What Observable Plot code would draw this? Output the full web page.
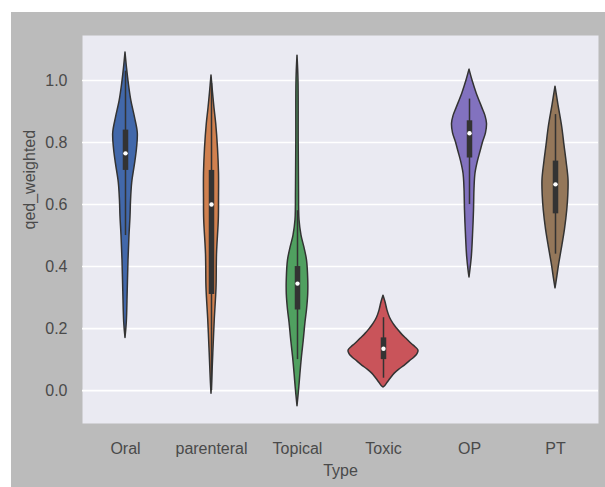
<!DOCTYPE html>
<html>
<head>
<meta charset="utf-8">
<script src="https://cdn.jsdelivr.net/npm/d3@7"></script>
<script src="https://cdn.jsdelivr.net/npm/@observablehq/plot@0.6"></script>
<style>
  html, body { margin: 0; padding: 0; background: #ffffff; }
  #wrap { position: relative; width: 605px; height: 487px; overflow: hidden; }
  #bg { position: absolute; left: 11px; top: 12px; right: 0; bottom: 0; background: #bbbbbb; }
  #chart { position: absolute; left: 0; top: 0; }
</style>
</head>
<body>
<div id="wrap"><div id="bg"></div><div id="chart"></div></div>
<script>
// Categories (x) and their colours
const types = ["Oral", "parenteral", "Topical", "Toxic", "OP", "PT"];
const colors = ["#4268aa", "#d0804f", "#50a060", "#c9545a", "#8272bf", "#94775a"];

// Violin outlines: [qed_weighted value, relative density (half width)]
const oralProfile = [[1.09,0],[1.04,1.5],[0.99,3.3],[0.935,5.8],[0.88,9.5],[0.83,12.3],[0.78,11.5],[0.73,9.5],[0.67,6.7],[0.61,5.5],[0.56,5],[0.50,4],[0.42,3],[0.32,2.2],[0.22,1.3],[0.17,0]];
const parenteralProfile = [[1.016,0],[0.96,1.5],[0.91,3],[0.86,4.7],[0.78,6.5],[0.70,7.5],[0.62,7.5],[0.55,7.3],[0.44,5.5],[0.33,5],[0.23,3.3],[0.12,1.8],[0.04,0.8],[-0.01,0]];
const topicalProfile = [[1.08,0],[1.0,1],[0.8,1.2],[0.65,1.5],[0.55,2],[0.50,4],[0.46,7],[0.42,9.5],[0.36,10.7],[0.31,10.7],[0.26,9.5],[0.22,8],[0.16,6.2],[0.11,4.5],[0.05,2.8],[0.01,1.8],[-0.05,0]];
const toxicProfile = [[0.306,0],[0.285,2],[0.258,4],[0.235,6.5],[0.215,10],[0.20,13.5],[0.183,18],[0.167,23],[0.151,28],[0.14,32],[0.129,35],[0.118,34],[0.107,31],[0.095,26.5],[0.08,21],[0.067,15.5],[0.054,11],[0.04,7.5],[0.027,4.5],[0.015,1.8],[0.01,0]];
const opProfile = [[1.035,0],[1.0,3],[0.96,7],[0.91,13],[0.885,16],[0.86,17.5],[0.83,16.5],[0.80,13.5],[0.77,11],[0.74,8.5],[0.70,6],[0.65,5],[0.58,4.5],[0.50,3.5],[0.43,2.3],[0.365,0]];
const ptProfile = [[0.98,0],[0.92,3],[0.85,6.7],[0.79,9],[0.74,11],[0.68,13],[0.63,12.8],[0.58,11.7],[0.52,9.5],[0.47,7],[0.40,3.3],[0.36,1.5],[0.33,0]];

// Inner box statistics per category
const whiskerLow  = [0.50, 0.00, 0.10, 0.04, 0.60, 0.44];
const quartile1   = [0.71, 0.31, 0.26, 0.10, 0.75, 0.57];
const medians     = [0.765, 0.60, 0.345, 0.135, 0.83, 0.665];
const quartile3   = [0.84, 0.71, 0.40, 0.17, 0.87, 0.74];
const whiskerHigh = [1.03, 0.99, 0.58, 0.235, 0.94, 0.89];

// Axis ticks
const yTicks = [0.0, 0.2, 0.4, 0.6, 0.8, 1.0];
const xTicks = [0, 1, 2, 3, 4, 5];

const profiles = [oralProfile, parenteralProfile, topicalProfile, toxicProfile, opProfile, ptProfile];
const densityToX = 1 / 86; // relative density -> category-width units

const violinRows = [];
profiles.forEach((prof, i) => {
  const sorted = prof.slice().sort((a, b) => a[0] - b[0]);
  for (const [v, d] of sorted) {
    violinRows.push({type: types[i], i, y: v, x1: i - d * densityToX, x2: i + d * densityToX});
  }
});
const boxRows = types.map((t, i) => ({
  type: t, i, lo: whiskerLow[i], q1: quartile1[i], med: medians[i], q3: quartile3[i], hi: whiskerHigh[i]
}));

const chart = Plot.plot({
  width: 605,
  height: 487,
  marginLeft: 82,
  marginRight: 7,
  marginTop: 35,
  marginBottom: 64,
  style: {fontFamily: "'Liberation Sans', Arial, sans-serif", fontSize: "16px", color: "#4a4a4a", background: "transparent"},
  x: {domain: [-0.5, 5.5], axis: null},
  y: {domain: [-0.106, 1.145], axis: null},
  color: {domain: types, range: colors},
  marks: [
    Plot.frame({fill: "#eaeaf2", stroke: null}),
    Plot.gridY(yTicks, {stroke: "#ffffff", strokeOpacity: 1, strokeWidth: 1.6}),
    Plot.areaX(violinRows, {y: "y", x1: "x1", x2: "x2", z: "type", fill: "type", stroke: "#333333", strokeWidth: 1.5, curve: "catmull-rom"}),
    Plot.ruleX(boxRows, {x: "i", y1: "lo", y2: "hi", stroke: "#333333", strokeWidth: 1.5}),
    Plot.ruleX(boxRows, {x: "i", y1: "q1", y2: "q3", stroke: "#333333", strokeWidth: 5.5}),
    Plot.dot(boxRows, {x: "i", y: "med", r: 2.2, fill: "#ffffff", stroke: null}),
    Plot.axisY(yTicks, {tickSize: 0, tickPadding: 15, tickFormat: d3.format(".1f"), label: null, fontSize: 16}),
    Plot.axisX(xTicks, {tickSize: 0, tickPadding: 19, tickFormat: i => types[i], label: null, fontSize: 16}),
    Plot.text(["Type"], {frameAnchor: "bottom", dy: 52, text: d => d, fontSize: 16, fill: "#4a4a4a"}),
    Plot.text(["qed_weighted"], {frameAnchor: "left", dx: -53, rotate: -90, text: d => d, fontSize: 16, fill: "#4a4a4a"})
  ]
});
document.getElementById("chart").appendChild(chart);
</script>
</body>
</html>
